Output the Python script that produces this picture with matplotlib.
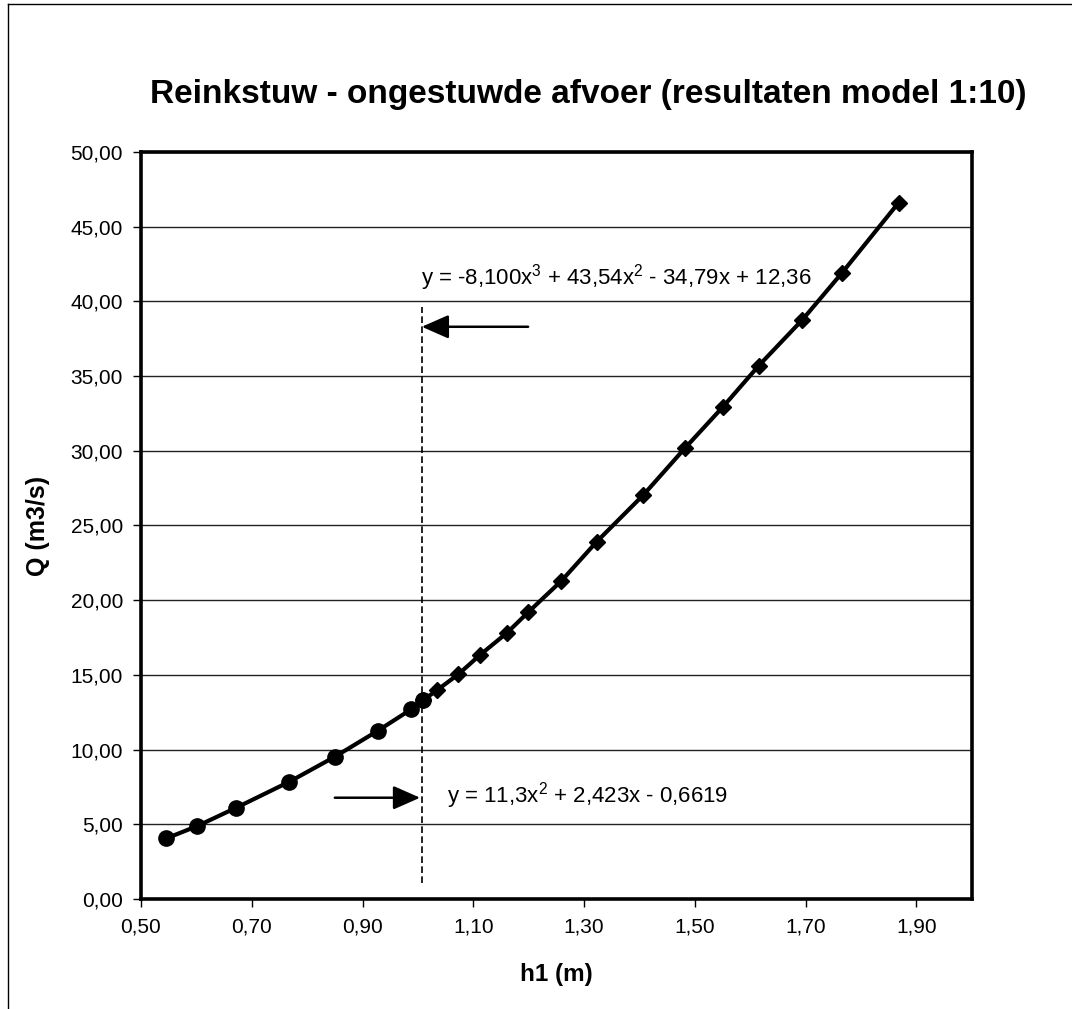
import matplotlib
matplotlib.use("Agg")
import matplotlib.pyplot as plt
from matplotlib.ticker import FuncFormatter, MultipleLocator
from matplotlib.lines import Line2D

plt.rcParams['font.family'] = ['Liberation Sans', 'DejaVu Sans']
plt.rcParams['mathtext.fontset'] = 'custom'
plt.rcParams['mathtext.rm'] = 'Liberation Sans'
plt.rcParams['mathtext.default'] = 'regular'

# Series 1 (circles, quadratic range)
h1_low = [0.546, 0.602, 0.672, 0.768, 0.850, 0.928, 0.988, 1.010]
Q_low = [4.06, 4.89, 6.11, 7.85, 9.52, 11.27, 12.70, 13.32]

# Series 2 (diamonds, cubic range)
h1_high = [1.010, 1.035, 1.073, 1.112, 1.161, 1.199, 1.259, 1.323, 1.407,
           1.482, 1.551, 1.615, 1.694, 1.766, 1.868]
Q_high = [13.32, 13.99, 15.04, 16.33, 17.82, 19.19, 21.29, 23.92, 27.04,
          30.17, 32.95, 35.68, 38.76, 41.92, 46.61]

x_ticks = [0.5, 0.7, 0.9, 1.1, 1.3, 1.5, 1.7, 1.9]

title = "Reinkstuw - ongestuwde afvoer (resultaten model 1:10)"
xlabel = "h1 (m)"
ylabel = "Q (m3/s)"
eq_cubic = r"y = -8,100x$^{3}$ + 43,54x$^{2}$ - 34,79x + 12,36"
eq_quad = r"y = 11,3x$^{2}$ + 2,423x - 0,6619"
split_x = 1.007

fig = plt.figure(figsize=(10.72, 10.09), dpi=100)
ax = fig.add_axes([0.1315, 0.109, 0.775, 0.7404])

ax.set_xlim(0.5, 2.0)
ax.set_ylim(0, 50)
ax.set_xticks(x_ticks)
ax.yaxis.set_major_locator(MultipleLocator(5))
fmt = FuncFormatter(lambda v, p: f"{v:.2f}".replace('.', ','))
ax.xaxis.set_major_formatter(fmt)
ax.yaxis.set_major_formatter(fmt)

ax.grid(axis='y', color='#222222', lw=1.0)
ax.set_axisbelow(True)
for s in ax.spines.values():
    s.set_linewidth(2.6)
    s.set_color('black')
ax.tick_params(axis='both', direction='out', length=6, width=1.0,
               labelsize=15, pad=7, colors='black')

ax.plot(h1_low, Q_low, color='black', lw=3.0, marker='o', ms=11, zorder=3)
ax.plot(h1_high, Q_high, color='black', lw=3.0, marker='D', ms=8.5, zorder=3)

# dashed split line
ax.plot([split_x, split_x], [1.1, 39.6], color='black', lw=1.2,
        ls=(0, (4, 2)), zorder=2)

# arrows
astyle = '-|>,head_length=0.5,head_width=0.22'
ax.annotate("", xy=(split_x, 38.3), xytext=(1.199, 38.3),
            arrowprops=dict(arrowstyle=astyle, color='black', lw=1.8,
                            mutation_scale=33, shrinkA=0, shrinkB=0))
ax.annotate("", xy=(split_x - 0.003, 6.78), xytext=(0.850, 6.78),
            arrowprops=dict(arrowstyle=astyle, color='black', lw=1.8,
                            mutation_scale=33, shrinkA=0, shrinkB=0))

ax.text(1.005, 41.6, eq_cubic, fontsize=16, ha='left', va='center')
ax.text(1.053, 6.9, eq_quad, fontsize=16, ha='left', va='center')

ax.set_xlabel(xlabel, fontsize=17.5, fontweight='bold')
ax.set_ylabel(ylabel, fontsize=18, fontweight='bold')
ax.xaxis.set_label_coords(0.5, -0.085)
ax.yaxis.set_label_coords(-0.11, 0.5)

fig.text(0.549, 0.906, title, fontsize=24, fontweight='bold',
         ha='center', va='center')

# chart area border (left and top)
fig.add_artist(Line2D([0.0075, 0.0075], [0, 0.996], transform=fig.transFigure,
                      color='black', lw=1.0))
fig.add_artist(Line2D([0.0075, 1.0], [0.996, 0.996], transform=fig.transFigure,
                      color='black', lw=1.0))

fig.savefig("out.png", dpi=100)
